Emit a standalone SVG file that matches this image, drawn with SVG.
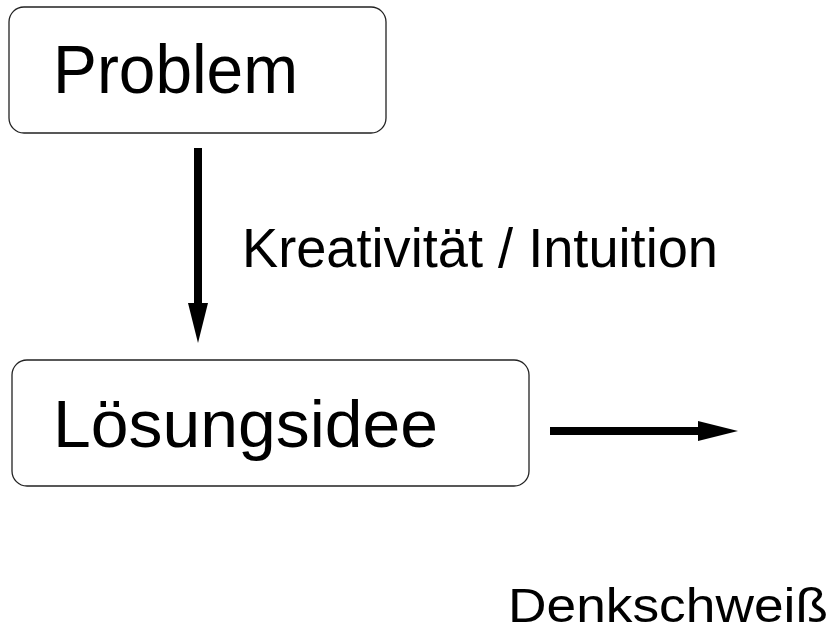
<svg xmlns="http://www.w3.org/2000/svg" width="837" height="632" viewBox="0 0 837 632">
  <style>
    .box { fill: #ffffff; stroke: #222222; stroke-width: 1.3; }
    .txt { font-family: "Liberation Sans", Arial, sans-serif; fill: #000000; }
    .shaft { stroke: #000000; stroke-width: 8; fill: none; }
  </style>
  <defs>
    <marker id="head" viewBox="0 0 40 20" refX="0" refY="10" markerUnits="userSpaceOnUse" markerWidth="40" markerHeight="20" orient="auto">
      <path d="M0,0 L40,10 L0,20 Z" fill="#000000"/>
    </marker>
  </defs>
  <rect width="837" height="632" fill="#ffffff"/>

  <g id="problem">
    <rect class="box" x="9" y="7" width="377" height="126" rx="15" ry="15"/>
    <text class="txt" x="53" y="93" font-size="68" textLength="245" lengthAdjust="spacingAndGlyphs">Problem</text>
  </g>

  <g id="loesungsidee">
    <rect class="box" x="12" y="360" width="517" height="126" rx="15" ry="15"/>
    <text class="txt" x="53" y="447" font-size="66" textLength="385" lengthAdjust="spacingAndGlyphs">Lösungsidee</text>
  </g>

  <g id="denkschweiss">
    <text class="txt" x="508" y="622" font-size="49" textLength="320" lengthAdjust="spacingAndGlyphs">Denkschweiß</text>
  </g>

  <g id="connectors">
    <line class="shaft" x1="198" y1="148" x2="198" y2="303" marker-end="url(#head)"/>
    <text class="txt" x="242" y="267" font-size="56" textLength="476" lengthAdjust="spacingAndGlyphs">Kreativität / Intuition</text>
    <line class="shaft" x1="550" y1="431" x2="698" y2="431" marker-end="url(#head)"/>
  </g>
</svg>
